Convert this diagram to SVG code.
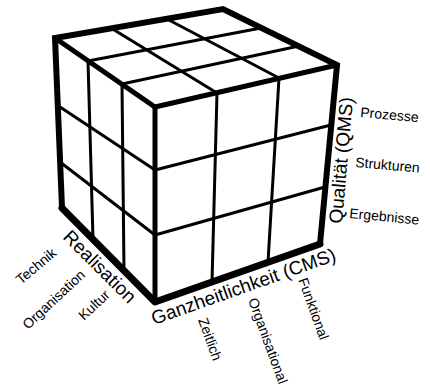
<svg xmlns="http://www.w3.org/2000/svg" width="430" height="385" viewBox="0 0 430 385">
<style>
.face{fill:#fff;stroke:none}
.grid{fill:none;stroke:#000;stroke-width:3;stroke-linecap:round}
.edge{fill:none;stroke:#000;stroke-width:5;stroke-linecap:round}
.outline{fill:none;stroke:#000;stroke-width:6;stroke-linejoin:miter}
.bottom{fill:none;stroke:#000;stroke-width:7;stroke-linecap:round;stroke-linejoin:round}
.axis{font-family:"Liberation Sans",Arial,sans-serif;font-size:19px;fill:#000}
.lbl{font-family:"Liberation Sans",Arial,sans-serif;font-size:14px;fill:#000}
</style>
<rect width="430" height="385" fill="#fff"/>
<g id="cube">
  <g id="top-face">
    <polygon class="face" points="55,38 223,9 337,65 155,107"/>
    <line class="grid" x1="111" y1="28" x2="217" y2="93"/>
    <line class="grid" x1="167" y1="19" x2="279" y2="78"/>
    <line class="grid" x1="88" y1="61" x2="261" y2="28"/>
    <line class="grid" x1="122" y1="84" x2="299" y2="46"/>
  </g>
  <g id="front-face">
    <polygon class="face" points="155,107 337,65 320,244 155,302"/>
    <line class="grid" x1="217" y1="93" x2="212" y2="282"/>
    <line class="grid" x1="279" y1="78" x2="268" y2="262"/>
    <line class="grid" x1="155" y1="170" x2="331" y2="125"/>
    <line class="grid" x1="155" y1="235" x2="325" y2="187"/>
  </g>
  <g id="left-face">
    <polygon class="face" points="55,38 155,107 155,302 62,208"/>
    <line class="grid" x1="88" y1="61" x2="93" y2="239"/>
    <line class="grid" x1="122" y1="84" x2="124" y2="271"/>
    <line class="grid" x1="57" y1="105" x2="155" y2="170"/>
    <line class="grid" x1="60" y1="162" x2="155" y2="235"/>
  </g>
  <g id="edges">
    <polyline class="edge" points="55,38 155,107 337,65"/>
    <line class="edge" x1="155" y1="107" x2="155" y2="302"/>
    <polyline class="outline" points="62,208 55,38 223,9 337,65 320,244"/>
    <polyline class="bottom" points="62,208 155,302 320,244"/>
  </g>
</g>
<g id="axis-qualitaet">
  <text class="axis" transform="translate(342,224) rotate(-85)">Qualität (QMS)</text>
  <text class="lbl" transform="translate(360,117) rotate(5)">Prozesse</text>
  <text class="lbl" transform="translate(355,167) rotate(5)">Strukturen</text>
  <text class="lbl" transform="translate(349,218) rotate(5.5)">Ergebnisse</text>
</g>
<g id="axis-ganzheitlichkeit">
  <text class="axis" transform="translate(154,325) rotate(-19.5)">Ganzheitlichkeit (CMS)</text>
  <text class="lbl" transform="translate(198,320) rotate(70)">Zeitlich</text>
  <text class="lbl" transform="translate(248,300) rotate(70)">Organisational</text>
  <text class="lbl" transform="translate(298,280) rotate(70)">Funktional</text>
</g>
<g id="axis-realisation">
  <text class="axis" transform="translate(62,238) rotate(45)">Realisation</text>
  <text class="lbl" transform="translate(21,285) rotate(-40)">Technik</text>
  <text class="lbl" transform="translate(28,330) rotate(-43)">Organisation</text>
  <text class="lbl" transform="translate(84,321) rotate(-43)">Kultur</text>
</g>
</svg>
